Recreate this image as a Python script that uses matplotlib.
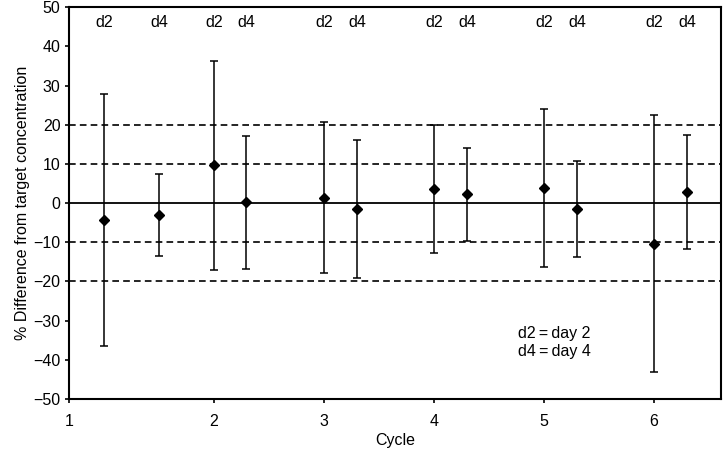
import matplotlib.pyplot as plt

plt.rcParams['font.family'] = ['Liberation Sans', 'DejaVu Sans']

# x position of each measurement (cycle, day 2 / day 4)
x_pos = [1.0, 1.5, 2.0, 2.29, 3.0, 3.3, 4.0, 4.3, 5.0, 5.3, 6.0, 6.3]
day_labels = ['d2', 'd4'] * 6
mean_diff = [-4.4, -3.1, 9.7, 0.2, 1.4, -1.5, 3.7, 2.3, 3.8, -1.5, -10.4, 2.9]
upper = [27.9, 7.4, 36.4, 17.1, 20.8, 16.0, 20.0, 14.1, 24.1, 10.7, 22.4, 17.4]
lower = [-36.4, -13.4, -17.0, -16.7, -17.9, -19.1, -12.6, -9.7, -16.3, -13.8, -43.2, -11.7]

tick_pos = [0.686, 2, 3, 4, 5, 6]
tick_labels = ['1', '2', '3', '4', '5', '6']

err_lo = [m - l for m, l in zip(mean_diff, lower)]
err_hi = [u - m for m, u in zip(mean_diff, upper)]

fig = plt.figure(figsize=(7.23, 4.51), dpi=100)
ax = fig.add_axes([0.0961, 0.1153, 0.9007, 0.8685])

for y in [-20, -10, 10, 20]:
    ax.axhline(y, color='black', linestyle=(0, (4, 2.5)), linewidth=1.2, zorder=1)
ax.axhline(0, color='black', linewidth=1.3, zorder=1)

ax.errorbar(x_pos, mean_diff, yerr=[err_lo, err_hi], fmt='D', color='black',
            markersize=5, ecolor='black', elinewidth=1.1, capsize=3, capthick=1.1, zorder=3)

for x, lab in zip(x_pos, day_labels):
    ax.text(x, 46, lab, ha='center', va='center', fontsize=11.5)

ax.text(4.76, -35.6, 'd2\u2009=\u2009day 2\nd4\u2009=\u2009day 4', ha='left', va='center',
        fontsize=11.5, linespacing=1.25)

ax.set_xlim(0.686, 6.606)
ax.set_ylim(-50, 50)
ax.set_xticks(tick_pos)
ax.set_xticklabels(tick_labels)
ax.set_yticks(range(-50, 51, 10))
ax.tick_params(labelsize=11.5, length=3, width=1.2)
ax.tick_params(axis='x', pad=8)
ax.set_xlabel('Cycle', fontsize=11.5, labelpad=3)
ax.set_ylabel('% Difference from target concentration', fontsize=11.5, labelpad=2)
for s in ax.spines.values():
    s.set_linewidth(1.5)

fig.savefig('out.png', dpi=100)
